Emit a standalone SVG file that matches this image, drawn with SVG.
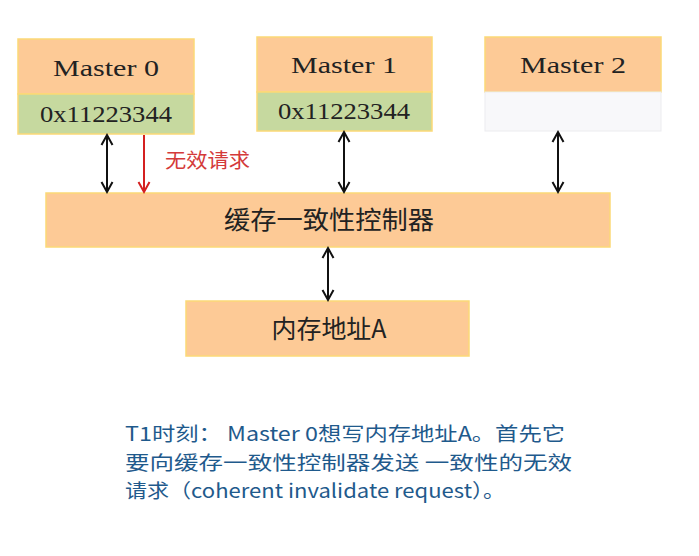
<svg xmlns="http://www.w3.org/2000/svg" width="699" height="556" viewBox="0 0 699 556">
<style>
.box{fill:#fdca96;stroke:#fbd977;stroke-width:1.5}
.grn{fill:#c6d99f;stroke:#fbd977;stroke-width:1.5}
.emp{fill:#f8f8fa;stroke:#ececef;stroke-width:1}
.lat{font-family:"Liberation Serif",serif;font-size:23px;fill:#222}
.cjk{font-family:"Noto Sans CJK SC","Noto Sans",sans-serif;font-size:25px;fill:#222}
.desc{font-family:"Noto Sans CJK SC","Noto Sans",sans-serif;font-size:19.5px;fill:#1f5a8c}
.conn{stroke:#111;stroke-width:2;fill:none}
.red{stroke:#d42020;stroke-width:2;fill:none}
</style>
<defs>
<marker id="ah" markerWidth="14" markerHeight="14" refX="11" refY="7" orient="auto-start-reverse" markerUnits="userSpaceOnUse">
<path d="M1,1.5 L11,7 L1,12.5" fill="none" stroke="#111" stroke-width="2"/>
</marker>
<marker id="ahr" markerWidth="14" markerHeight="14" refX="11" refY="7" orient="auto" markerUnits="userSpaceOnUse">
<path d="M1,1.5 L11,7 L1,12.5" fill="none" stroke="#d42020" stroke-width="2"/>
</marker>
</defs>
<rect width="699" height="556" fill="#fff"/>
<g id="master0">
<rect class="box" x="18" y="39" width="176" height="55"/>
<rect class="grn" x="18" y="94" width="176" height="40"/>
<text class="lat" x="106" y="76" text-anchor="middle" textLength="106" lengthAdjust="spacingAndGlyphs">Master 0</text>
<text class="lat" x="106" y="122" text-anchor="middle" textLength="132" lengthAdjust="spacingAndGlyphs">0x11223344</text>
</g>
<g id="master1">
<rect class="box" x="257" y="37" width="175" height="55"/>
<rect class="grn" x="257" y="92" width="175" height="39"/>
<text class="lat" x="344" y="73" text-anchor="middle" textLength="106" lengthAdjust="spacingAndGlyphs">Master 1</text>
<text class="lat" x="344" y="119" text-anchor="middle" textLength="132" lengthAdjust="spacingAndGlyphs">0x11223344</text>
</g>
<g id="master2">
<rect class="box" x="485" y="37" width="176" height="55"/>
<rect class="emp" x="485" y="92" width="176" height="39"/>
<text class="lat" x="573" y="73" text-anchor="middle" textLength="106" lengthAdjust="spacingAndGlyphs">Master 2</text>
</g>
<g id="controller">
<rect class="box" x="46" y="193" width="564" height="54"/>
<text class="cjk" x="329" y="229" text-anchor="middle" textLength="210" lengthAdjust="spacingAndGlyphs">缓存一致性控制器</text>
</g>
<g id="memory">
<rect class="box" x="186" y="301" width="283" height="55"/>
<text class="cjk" x="329" y="338" text-anchor="middle" textLength="115" lengthAdjust="spacingAndGlyphs">内存地址A</text>
</g>
<g id="connectors">
<line class="conn" x1="107" y1="135" x2="107" y2="192" marker-start="url(#ah)" marker-end="url(#ah)"/>
<line class="red" x1="144" y1="135" x2="144" y2="192" marker-end="url(#ahr)"/>
<line class="conn" x1="344" y1="132" x2="344" y2="192" marker-start="url(#ah)" marker-end="url(#ah)"/>
<line class="conn" x1="558" y1="132" x2="558" y2="192" marker-start="url(#ah)" marker-end="url(#ah)"/>
<line class="conn" x1="328" y1="248" x2="328" y2="300" marker-start="url(#ah)" marker-end="url(#ah)"/>
<text x="165" y="168" font-family="'Noto Sans CJK SC','Noto Sans',sans-serif" font-size="20" fill="#d43a3a" textLength="85" lengthAdjust="spacingAndGlyphs">无效请求</text>
</g>
<g id="description">
<text class="desc" x="125" y="441" textLength="440" lengthAdjust="spacingAndGlyphs">T1时刻： Master 0想写内存地址A。首先它</text>
<text class="desc" x="125" y="469.5" textLength="447" lengthAdjust="spacingAndGlyphs">要向缓存一致性控制器发送 一致性的无效</text>
<text class="desc" x="125" y="498" textLength="380" lengthAdjust="spacingAndGlyphs">请求（coherent invalidate request）。</text>
</g>
</svg>
